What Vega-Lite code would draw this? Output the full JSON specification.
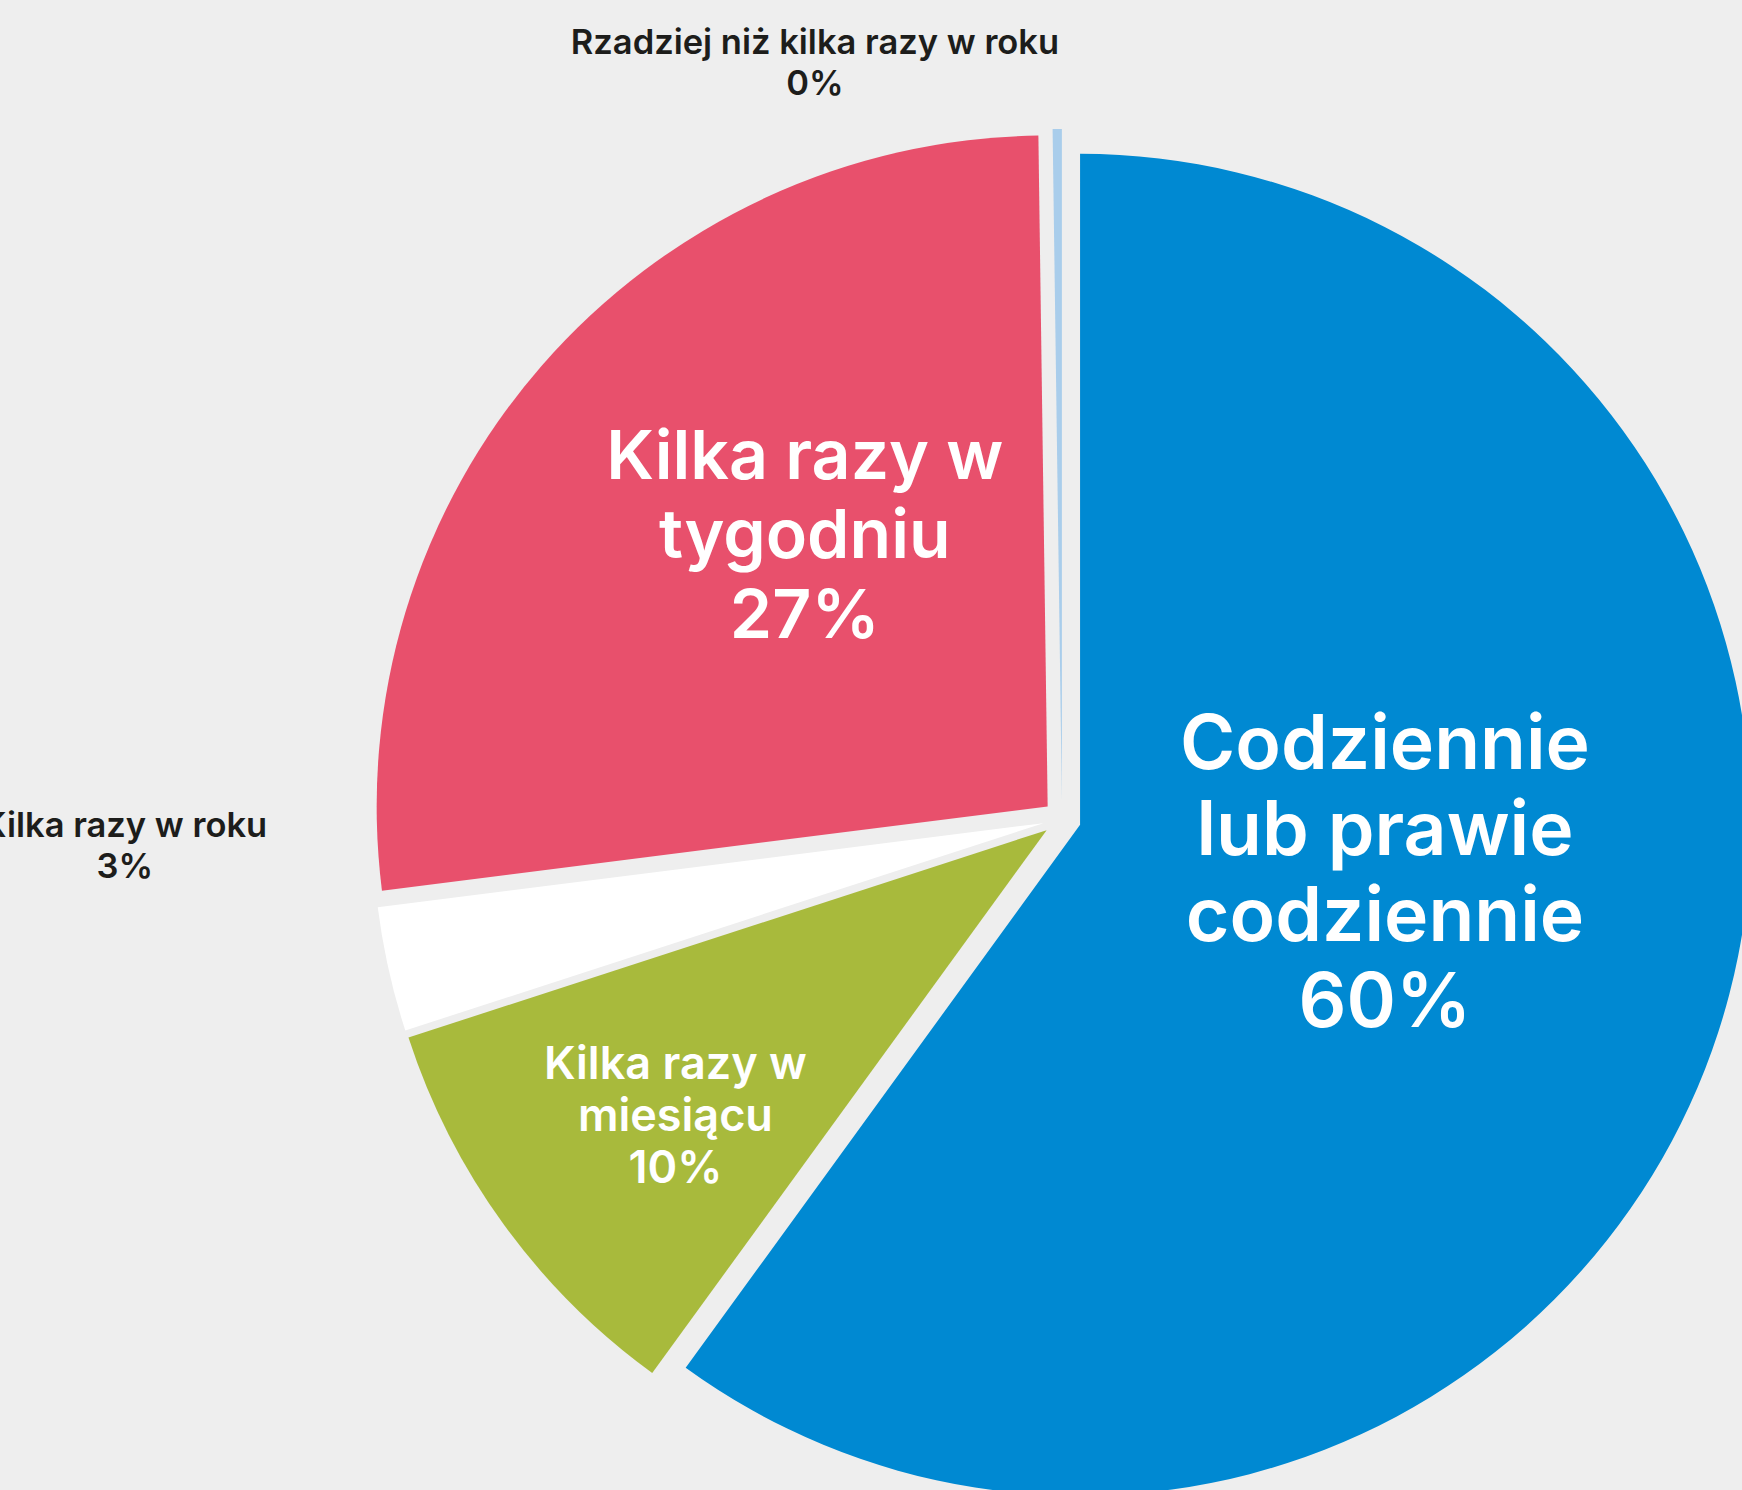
{
  "$schema": "https://vega.github.io/schema/vega-lite/v6.json",
  "width": 2124,
  "height": 1638,
  "autosize": {"type": "none"},
  "padding": 0,
  "background": "#eeeeee",
  "config": {"view": {"stroke": null}, "font": "Inter"},
  "data": {
    "values": [
      {"order": 1, "category": "Codziennie lub prawie codziennie", "value": 60, "text": "Codziennie\nlub prawie\ncodziennie\n60%"},
      {"order": 2, "category": "Kilka razy w miesiącu", "value": 10, "text": "Kilka razy w\nmiesiącu\n10%"},
      {"order": 3, "category": "Kilka razy w roku", "value": 3, "text": "Kilka razy w roku\n3%"},
      {"order": 4, "category": "Kilka razy w tygodniu", "value": 26.78, "text": "Kilka razy w\ntygodniu\n27%"},
      {"order": 5, "category": "Rzadziej niż kilka razy w roku", "value": 0.22, "text": "Rzadziej niż kilka razy w roku\n0%"}
    ]
  },
  "transform": [
    {"stack": "value", "groupby": [], "sort": [{"field": "order", "order": "ascending"}], "as": ["t0", "t1"]}
  ],
  "encoding": {
    "theta": {"field": "t0", "type": "quantitative", "scale": {"domain": [0, 100], "range": [0, 6.283185307179586]}, "stack": null},
    "color": {"field": "category", "type": "nominal", "legend": null,
      "scale": {"domain": ["Codziennie lub prawie codziennie", "Kilka razy w miesiącu", "Kilka razy w roku", "Kilka razy w tygodniu", "Rzadziej niż kilka razy w roku"],
                "range": ["#0089d2", "#a8ba3c", "#ffffff", "#e8506c", "#a9cdeb"]}}
  },
  "layer": [
    {
      "transform": [{"filter": "datum.order == 1"}],
      "layer": [
        {"mark": {"type": "arc", "radius": 671, "xOffset": 18.07, "yOffset": 5.87}, "encoding": {"theta2": {"field": "t1"}}},
        {"mark": {"type": "text", "radius": 309, "thetaOffset": 1.733, "xOffset": 18.07, "yOffset": 5.87, "dy": -129, "fontSize": 75, "lineHeight": 86, "fontWeight": 600, "align": "center", "baseline": "middle", "lineBreak": "\n"},
         "encoding": {"text": {"field": "text"}, "color": {"value": "#ffffff"}}}
      ]
    },
    {
      "transform": [{"filter": "datum.order == 2"}],
      "layer": [
        {"mark": {"type": "arc", "radius": 671, "xOffset": -15.37, "yOffset": 11.17}, "encoding": {"theta2": {"field": "t1"}}},
        {"mark": {"type": "text", "radius": 469, "thetaOffset": 0.285, "xOffset": -15.37, "yOffset": 11.17, "dy": -52, "fontSize": 45, "lineHeight": 52, "fontWeight": 600, "align": "center", "baseline": "middle", "lineBreak": "\n"},
         "encoding": {"text": {"field": "text"}, "color": {"value": "#ffffff"}}}
      ]
    },
    {
      "transform": [{"filter": "datum.order == 3"}],
      "layer": [
        {"mark": {"type": "arc", "radius": 671, "xOffset": -18.54, "yOffset": 4.15}, "encoding": {"theta2": {"field": "t1"}}},
        {"mark": {"type": "text", "radius": 919, "thetaOffset": 0.288, "xOffset": -18.54, "yOffset": 4.15, "dy": -20.5, "fontSize": 34.5, "lineHeight": 41, "fontWeight": 600, "align": "center", "baseline": "middle", "lineBreak": "\n"},
         "encoding": {"text": {"field": "text"}, "color": {"value": "#1d1d1b"}}}
      ]
    },
    {
      "transform": [{"filter": "datum.order == 4"}],
      "layer": [
        {"mark": {"type": "arc", "radius": 671, "xOffset": -14.34, "yOffset": -12.47}, "encoding": {"theta2": {"field": "t1"}}},
        {"mark": {"type": "text", "radius": 362, "thetaOffset": 0.961, "xOffset": -14.34, "yOffset": -12.47, "dy": -79.5, "fontSize": 68, "lineHeight": 79.5, "fontWeight": 600, "align": "center", "baseline": "middle", "lineBreak": "\n"},
         "encoding": {"text": {"field": "text"}, "color": {"value": "#ffffff"}}}
      ]
    },
    {
      "transform": [{"filter": "datum.order == 5"}],
      "layer": [
        {"mark": {"type": "arc", "radius": 671, "xOffset": -0.13, "yOffset": -19}, "encoding": {"theta2": {"field": "t1"}}},
        {"mark": {"type": "text", "radius": 776, "thetaOffset": -0.310, "xOffset": -0.13, "yOffset": -19, "dy": -20.25, "fontSize": 34.5, "lineHeight": 40.5, "fontWeight": 600, "align": "center", "baseline": "middle", "lineBreak": "\n"},
         "encoding": {"text": {"field": "text"}, "color": {"value": "#1d1d1b"}}}
      ]
    }
  ]
}
